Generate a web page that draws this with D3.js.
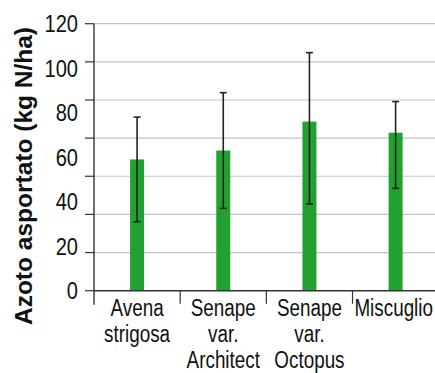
<!DOCTYPE html>
<html>
<head>
<meta charset="utf-8">
<script src="https://cdn.jsdelivr.net/npm/d3@7"></script>
<style>
  html, body { margin: 0; padding: 0; background: #fff; }
  svg { display: block; }
  .lbl { font-family: "Liberation Sans", Arial, sans-serif; fill: #111; }
  .title { font-family: "Liberation Sans", Arial, sans-serif; font-weight: bold; fill: #111; }
</style>
</head>
<body>
<svg id="chart" width="435" height="373"></svg>
<script>
// Nitrogen uptake by cover crop
const categories = ["Avena strigosa", "Senape var. Architect", "Senape var. Octopus", "Miscuglio"];
const categoryLines = [["Avena", "strigosa"], ["Senape", "var.", "Architect"], ["Senape", "var.", "Octopus"], ["Miscuglio"]];
const values = [59, 63, 76, 71];
const errLow = [31, 37, 39, 46];
const errHigh = [78, 89, 107, 85];
const tickLabels = [0, 20, 40, 60, 80, 100, 120];
const gridCount = 7;

const svg = d3.select("#chart");
const W = 435;
const plotLeft = 94, plotRight = 438.7, plotTop = 23.7, plotBottom = 290.7;
const narrow = 0.82; // horizontal squeeze for a condensed label face

const y = d3.scaleLinear().domain([0, 120]).range([plotBottom, plotTop]);
const x = d3.scaleBand().domain(categories).range([plotLeft, plotRight]).padding(0);

// horizontal gridlines and tick marks
const gridVals = d3.range(0, gridCount + 1).map(i => i * 120 / gridCount);
svg.append("g").selectAll("line").data(gridVals.slice(1)).join("line")
  .attr("x1", plotLeft).attr("x2", W)
  .attr("y1", d => y(d)).attr("y2", d => y(d))
  .attr("stroke", "#c4c4c4").attr("stroke-width", 1.2);
svg.append("g").selectAll("line").data(gridVals).join("line")
  .attr("x1", plotLeft - 9).attr("x2", plotLeft)
  .attr("y1", d => y(d)).attr("y2", d => y(d))
  .attr("stroke", "#333").attr("stroke-width", 1.2);

// tick labels
svg.append("g").selectAll("g").data(tickLabels).join("g")
  .attr("transform", d => `translate(78,${y(d) + 8.5}) scale(${narrow},1)`)
  .append("text")
  .attr("class", "lbl")
  .attr("text-anchor", "end")
  .attr("font-size", 24.5)
  .text(d => d);

// bars
const bw = 14;
svg.append("g").selectAll("rect").data(categories).join("rect")
  .attr("x", d => x(d) + x.bandwidth() / 2 - bw / 2)
  .attr("width", bw)
  .attr("y", (d, i) => y(values[i]))
  .attr("height", (d, i) => y(0) - y(values[i]))
  .attr("fill", "#22a030");

// error bars
const eb = svg.append("g").attr("stroke", "#222").attr("stroke-width", 1.6);
categories.forEach((c, i) => {
  const cx = x(c) + x.bandwidth() / 2;
  eb.append("line").attr("x1", cx).attr("x2", cx).attr("y1", y(errLow[i])).attr("y2", y(errHigh[i]));
  eb.append("line").attr("x1", cx - 3.5).attr("x2", cx + 3.5).attr("y1", y(errLow[i])).attr("y2", y(errLow[i]));
  eb.append("line").attr("x1", cx - 3.5).attr("x2", cx + 3.5).attr("y1", y(errHigh[i])).attr("y2", y(errHigh[i]));
});

// axes
svg.append("line").attr("x1", plotLeft).attr("x2", plotLeft).attr("y1", plotTop).attr("y2", plotBottom + 14)
  .attr("stroke", "#333").attr("stroke-width", 1.4);
svg.append("line").attr("x1", plotLeft).attr("x2", W).attr("y1", plotBottom).attr("y2", plotBottom)
  .attr("stroke", "#333").attr("stroke-width", 1.4);
svg.append("g").selectAll("line").data(categories.slice(1)).join("line")
  .attr("x1", d => x(d)).attr("x2", d => x(d))
  .attr("y1", plotBottom).attr("y2", plotBottom + 13)
  .attr("stroke", "#333").attr("stroke-width", 1.2);

// category labels, kept inside the right edge
categories.forEach((c, i) => {
  const g = svg.append("g");
  const t = g.append("text").attr("class", "lbl")
    .attr("font-size", 23).attr("text-anchor", "middle");
  categoryLines[i].forEach((ln, j) => {
    t.append("tspan").attr("x", 0).attr("y", j * 26.2).text(ln);
  });
  const half = t.node().getBBox().width * narrow / 2;
  const cx = Math.min(x(c) + x.bandwidth() / 2, W - half - 2);
  g.attr("transform", `translate(${cx},315.7) scale(${narrow},1)`);
});

// y title
svg.append("text").attr("class", "title")
  .attr("transform", "translate(32,176) rotate(-90)")
  .attr("text-anchor", "middle")
  .attr("font-size", 24.5)
  .text("Azoto asportato (kg N/ha)");
</script>
</body>
</html>
